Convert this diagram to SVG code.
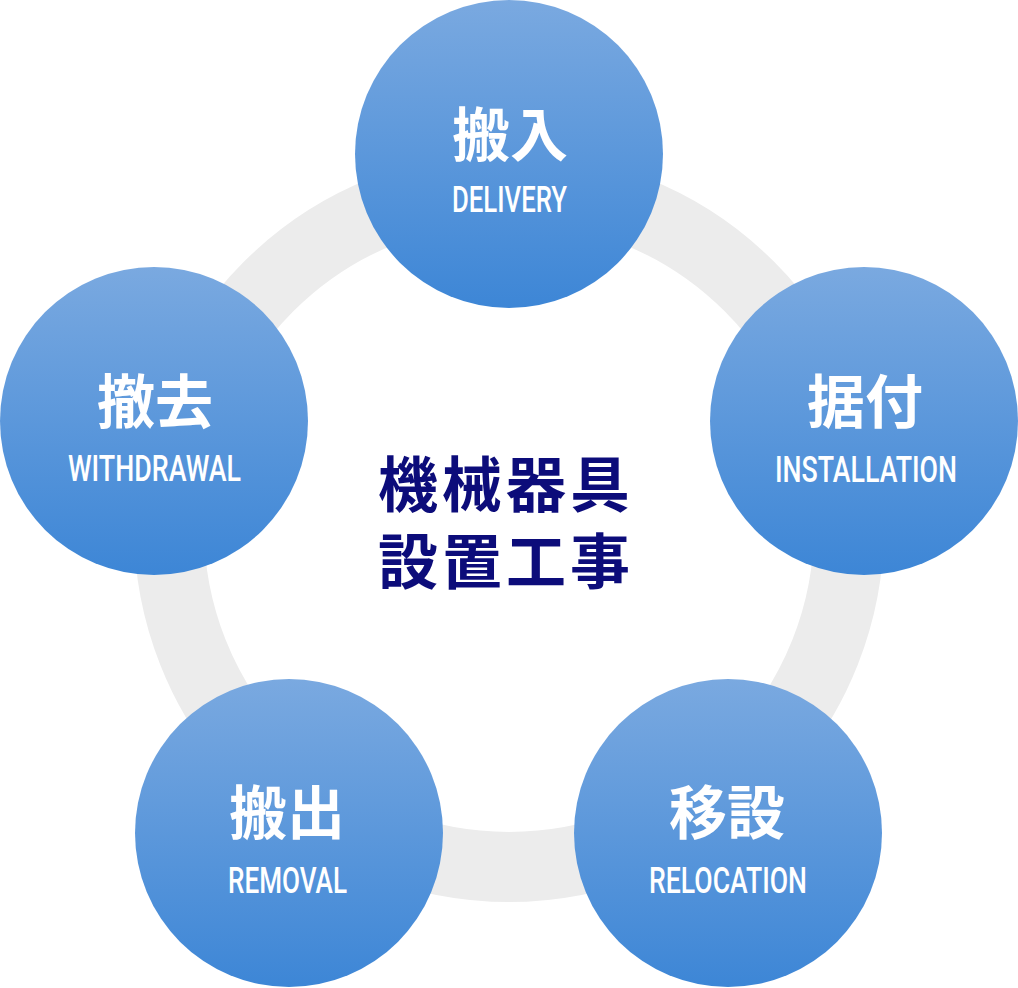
<svg xmlns="http://www.w3.org/2000/svg" width="1018" height="988" viewBox="0 0 1018 988">
  <style>
    .node { fill: url(#blue); }
    .jp { font-family: "Noto Sans CJK JP", "Noto Sans CJK SC", sans-serif; font-weight: 700; font-size: 58px; fill: #ffffff; text-anchor: middle; }
    .en { font-family: "Roboto", "Liberation Sans", sans-serif; font-weight: 500; font-size: 36px; fill: #ffffff; }
    .center { font-family: "Noto Sans CJK JP", "Noto Sans CJK SC", sans-serif; font-weight: 700; font-size: 60px; fill: #0c0c7a; letter-spacing: 4px; text-anchor: middle; }
  </style>
  <defs>
    <linearGradient id="blue" x1="0" y1="0" x2="0" y2="1">
      <stop offset="0" stop-color="#7aa9e0"/>
      <stop offset="1" stop-color="#3d86d6"/>
    </linearGradient>
  </defs>
  <rect width="1018" height="988" fill="#ffffff"/>
  <g id="connectors">
    <circle cx="509" cy="527" r="340" fill="none" stroke="#ececec" stroke-width="70"/>
  </g>
  <g id="center-title">
    <text class="center"><tspan x="506" y="507">機械器具</tspan><tspan x="506" y="584">設置工事</tspan></text>
  </g>
  <g id="node-delivery">
    <circle class="node" cx="509" cy="154" r="154"/>
    <text class="jp" x="510" y="156">搬入</text>
    <text class="en" x="452" y="212" textLength="115" lengthAdjust="spacingAndGlyphs">DELIVERY</text>
  </g>
  <g id="node-installation">
    <circle class="node" cx="864" cy="421" r="154"/>
    <text class="jp" x="865" y="423">据付</text>
    <text class="en" x="775" y="482" textLength="182" lengthAdjust="spacingAndGlyphs">INSTALLATION</text>
  </g>
  <g id="node-relocation">
    <circle class="node" cx="728" cy="833" r="154"/>
    <text class="jp" x="727" y="834">移設</text>
    <text class="en" x="649" y="893" textLength="158" lengthAdjust="spacingAndGlyphs">RELOCATION</text>
  </g>
  <g id="node-removal">
    <circle class="node" cx="289" cy="833" r="154"/>
    <text class="jp" x="287" y="834">搬出</text>
    <text class="en" x="228" y="893" textLength="119" lengthAdjust="spacingAndGlyphs">REMOVAL</text>
  </g>
  <g id="node-withdrawal">
    <circle class="node" cx="154" cy="421" r="154"/>
    <text class="jp" x="155" y="423">撤去</text>
    <text class="en" x="68" y="481" textLength="173" lengthAdjust="spacingAndGlyphs">WITHDRAWAL</text>
  </g>
</svg>
